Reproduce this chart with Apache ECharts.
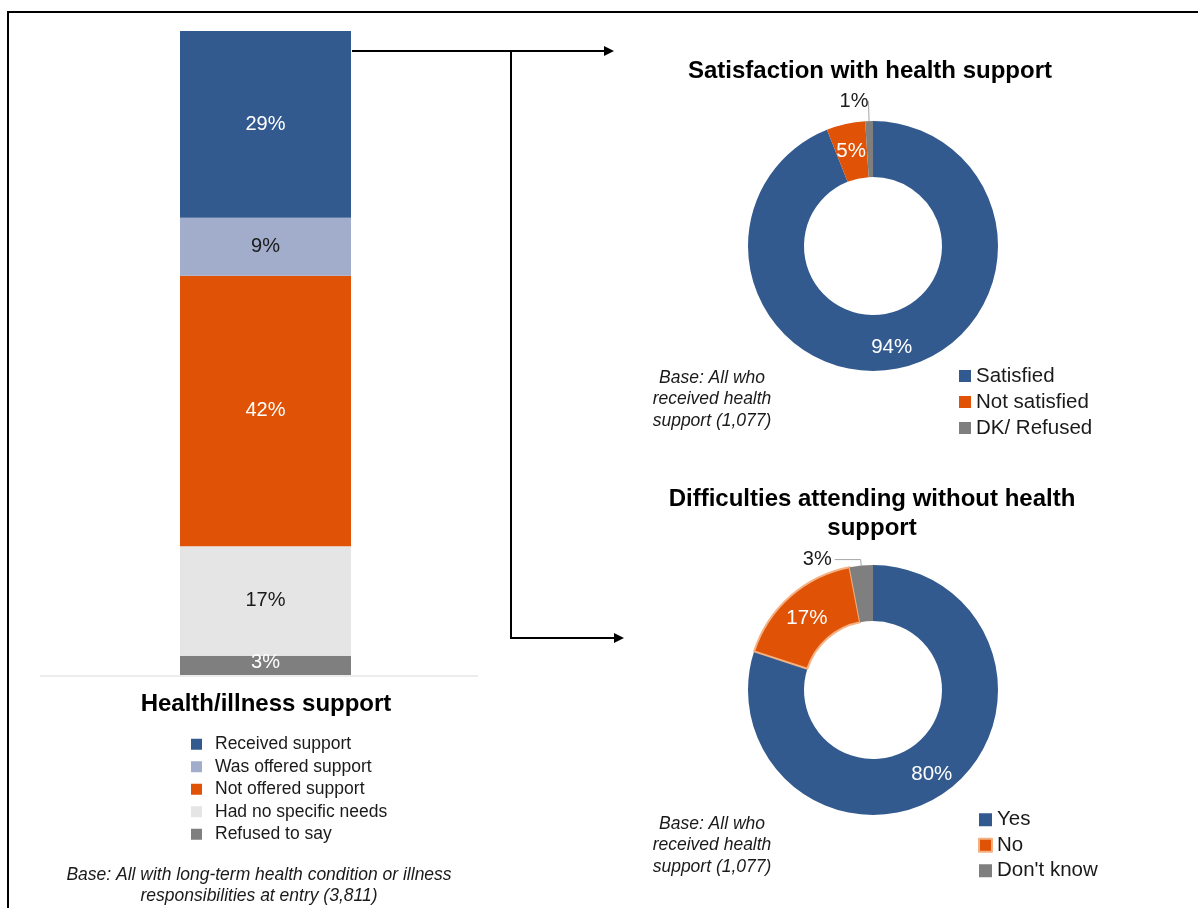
<!DOCTYPE html>
<html>
<head>
<meta charset="utf-8">
<script src="https://cdn.jsdelivr.net/npm/echarts@6/dist/echarts.min.js"></script>
<style>
  html, body { margin: 0; padding: 0; background: #fff; }
  #chart { width: 1198px; height: 908px; }
</style>
</head>
<body>
<div id="chart"></div>
<script>
// Stacked bar: health/illness support at entry (listed top to bottom)
const supportCategories = ['Received support', 'Was offered support', 'Not offered support', 'Had no specific needs', 'Refused to say'];
const supportValues = [29, 9, 42, 17, 3];
const supportColors = ['#335A8E', '#A2ADCB', '#E05206', '#E5E5E5', '#7F7F7F'];
const supportLabelColors = ['#FFFFFF', '#1A1A1A', '#FFFFFF', '#1A1A1A', '#FFFFFF'];

// Donut: satisfaction with health support
const satisfactionNames = ['Satisfied', 'Not satisfied', 'DK/ Refused'];
const satisfactionValues = [94, 5, 1];

// Donut: difficulties attending without health support
const difficultyNames = ['Yes', 'No', "Don't know"];
const difficultyValues = [80, 17, 3];

const pieColors = ['#335A8E', '#E05206', '#7F7F7F'];

const FONT = '"Liberation Sans", Arial, sans-serif';

const chart = echarts.init(document.getElementById('chart'), null, { renderer: 'canvas' });

// Bar series stacked bottom-up, so iterate from the last category
const barSeries = [];
for (let i = supportCategories.length - 1; i >= 0; i--) {
  barSeries.push({
    name: supportCategories[i],
    type: 'bar',
    stack: 'support',
    barWidth: '100%',
    data: [supportValues[i]],
    itemStyle: { color: supportColors[i] },
    label: {
      show: true,
      position: 'inside',
      formatter: '{c}%',
      color: supportLabelColors[i],
      fontFamily: FONT,
      fontSize: 20,
      offset: i === supportCategories.length - 1 ? [0, -3] : [0, 0]
    },
    emphasis: { disabled: true },
    animation: false
  });
}

function pieData(names, values, extra) {
  return names.map((n, i) => Object.assign({
    name: n,
    value: values[i],
    itemStyle: { color: pieColors[i] }
  }, extra[i] || {}));
}

const insideLabel = { show: true, position: 'inside', color: '#FFFFFF', fontSize: 20.5, fontFamily: FONT, formatter: '{c}%', offset: [0, 3] };

const satisfactionData = pieData(satisfactionNames, satisfactionValues, {
  0: { label: insideLabel },
  1: { label: insideLabel },
  2: {
    label: { show: true, position: 'outside', color: '#1A1A1A', fontSize: 20, fontFamily: FONT, formatter: '{c}%', distanceToLabelLine: 0 },
    labelLine: { show: true, length: 20, length2: 0, lineStyle: { color: '#A6A6A6', width: 1 } }
  }
});

const difficultyData = pieData(difficultyNames, difficultyValues, {
  0: { label: insideLabel },
  1: { label: insideLabel, itemStyle: { color: pieColors[1], borderColor: '#F4B183', borderWidth: 2 } },
  2: {
    label: { show: true, position: 'outside', color: '#1A1A1A', fontSize: 20, fontFamily: FONT, formatter: '{c}%', distanceToLabelLine: 3 },
    labelLine: { show: true, length: 6, length2: 26, lineStyle: { color: '#A6A6A6', width: 1 } }
  }
});

const noteStyle = { fontFamily: FONT, fontStyle: 'italic', fontWeight: 'normal', fontSize: 17.5, lineHeight: 21.5, color: '#1A1A1A' };
const headStyle = { fontFamily: FONT, fontWeight: 'bold', fontSize: 24, lineHeight: 29, color: '#000000' };

const option = {
  backgroundColor: '#FFFFFF',
  animation: false,
  textStyle: { fontFamily: FONT },
  title: [
    { text: 'Health/illness support', left: 266, top: 690, textAlign: 'center', textStyle: headStyle, padding: 0 },
    { text: 'Satisfaction with health support', left: 870, top: 57, textAlign: 'center', textStyle: headStyle, padding: 0 },
    { text: 'Difficulties attending without health\nsupport', left: 872, top: 485, textAlign: 'center', textStyle: headStyle, padding: 0 },
    { text: 'Base: All who\nreceived health\nsupport (1,077)', left: 712, top: 367, textAlign: 'center', textStyle: noteStyle, padding: 0 },
    { text: 'Base: All who\nreceived health\nsupport (1,077)', left: 712, top: 813, textAlign: 'center', textStyle: noteStyle, padding: 0 },
    { text: 'Base: All with long-term health condition or illness\nresponsibilities at entry (3,811)', left: 259, top: 864, textAlign: 'center', textStyle: noteStyle, padding: 0 }
  ],
  legend: [
    {
      data: supportCategories,
      orient: 'vertical',
      left: 191,
      top: 733,
      padding: 0,
      itemGap: 0,
      itemWidth: 11,
      itemHeight: 11,
      icon: 'rect',
      selectedMode: false,
      textStyle: { fontFamily: FONT, fontSize: 17.5, lineHeight: 22.5, color: '#1A1A1A', padding: [0, 0, 0, 8] }
    },
    {
      data: satisfactionNames,
      orient: 'vertical',
      left: 959,
      top: 363,
      padding: 0,
      itemGap: 0,
      itemWidth: 12,
      itemHeight: 12,
      icon: 'rect',
      selectedMode: false,
      textStyle: { fontFamily: FONT, fontSize: 20.5, lineHeight: 26, color: '#1A1A1A' }
    },
    {
      data: difficultyNames,
      orient: 'vertical',
      left: 978,
      top: 807,
      padding: 0,
      itemGap: 0,
      itemWidth: 13,
      itemHeight: 13,
      icon: 'rect',
      selectedMode: false,
      textStyle: { fontFamily: FONT, fontSize: 20.5, lineHeight: 25.5, color: '#1A1A1A' }
    }
  ],
  grid: { left: 180, top: 31, width: 171, height: 644 },
  xAxis: {
    type: 'category',
    data: [''],
    axisLine: { show: false },
    axisTick: { show: false },
    axisLabel: { show: false },
    splitLine: { show: false }
  },
  yAxis: {
    type: 'value',
    min: 0,
    max: 100,
    show: false
  },
  series: barSeries.concat([
    {
      name: 'Satisfaction with health support',
      type: 'pie',
      center: [873, 246],
      radius: [69, 125],
      startAngle: 90,
      clockwise: true,
      avoidLabelOverlap: false,
      emphasis: { disabled: true },
      data: satisfactionData
    },
    {
      name: 'Difficulties attending without health support',
      type: 'pie',
      center: [873, 690],
      radius: [69, 125],
      startAngle: 90,
      clockwise: true,
      avoidLabelOverlap: false,
      emphasis: { disabled: true },
      data: difficultyData
    }
  ]),
  graphic: [
    // outer frame
    { type: 'polyline', shape: { points: [[8, 908], [8, 12], [1198, 12]] }, style: { stroke: '#000', lineWidth: 2, fill: null } },
    // baseline under the bar
    { type: 'line', shape: { x1: 40, y1: 676, x2: 478, y2: 676 }, style: { stroke: '#D9D9D9', lineWidth: 1 } },
    // connector to the satisfaction donut
    { type: 'line', shape: { x1: 352, y1: 51, x2: 606, y2: 51 }, style: { stroke: '#000', lineWidth: 2 } },
    { type: 'polygon', shape: { points: [[604, 46], [614, 51], [604, 56]] }, style: { fill: '#000' } },
    // connector to the difficulties donut
    { type: 'polyline', shape: { points: [[511, 51], [511, 638], [616, 638]] }, style: { stroke: '#000', lineWidth: 2, fill: null } },
    { type: 'polygon', shape: { points: [[614, 633], [624, 638], [614, 643]] }, style: { fill: '#000' } }
  ]
};

chart.setOption(option);
</script>
</body>
</html>
